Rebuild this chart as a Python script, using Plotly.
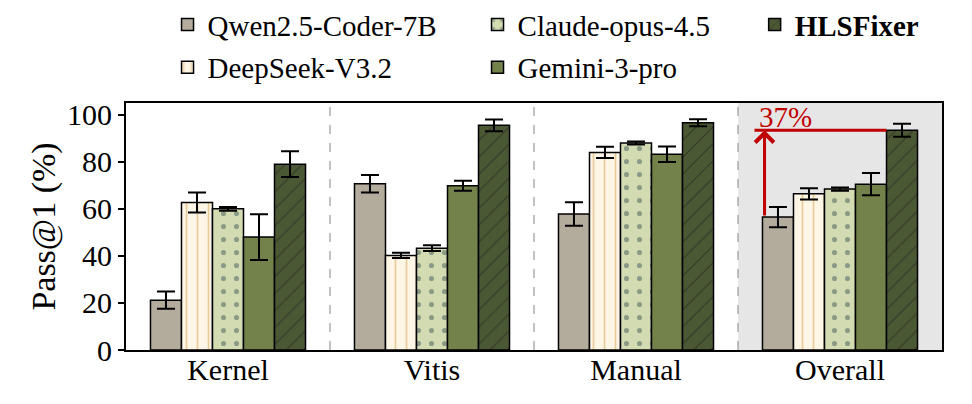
import plotly.graph_objects as go

categories = ["Kernel", "Vitis", "Manual", "Overall"]
cat_pos = [0, 1, 2, 3]

models = ["Qwen2.5-Coder-7B", "DeepSeek-V3.2", "Claude-opus-4.5", "Gemini-3-pro", "HLSFixer"]

qwen = [21.2, 70.7, 57.8, 56.5]
qwen_err = [3.7, 3.7, 5.0, 4.3]
deepseek = [62.7, 40.2, 84.0, 66.4]
deepseek_err = [4.3, 1.1, 2.4, 2.4]
claude = [60.0, 43.3, 88.0, 68.4]
claude_err = [0.8, 1.2, 0.6, 0.7]
gemini = [48.0, 69.8, 83.2, 70.5]
gemini_err = [9.7, 2.1, 3.3, 4.7]
hlsfixer = [79.0, 95.5, 96.6, 93.4]
hlsfixer_err = [5.5, 2.5, 1.5, 2.8]

improvement_label = "37%"

FONT = "Liberation Serif"
RED = "#c00000"

series = [
    (models[0], qwen, qwen_err, "#b3ab9c", None, "legend", 0),
    (models[1], deepseek, deepseek_err, "#fdf5e6", dict(shape="|", fgcolor="#d2a047", size=11, solidity=0.15), "legend", 1),
    (models[2], claude, claude_err, "#d3dbb2", dict(shape=".", fgcolor="#3f5c55", size=13, solidity=0.12), "legend2", 2),
    (models[3], gemini, gemini_err, "#73824b", None, "legend2", 3),
    ("<b>" + models[4] + "</b>", hlsfixer, hlsfixer_err, "#4b5834", dict(shape="/", fgcolor="#1a1a1a", size=12, solidity=0.1), "legend3", 4),
]

fig = go.Figure()
for name, vals, errs, color, pattern, leg, idx in series:
    marker = dict(color=color, line=dict(color="black", width=1.5))
    if pattern:
        marker["pattern"] = pattern
    fig.add_trace(go.Bar(
        x=cat_pos, y=vals, name=name, marker=marker,
        error_y=dict(type="data", array=errs, color="black", thickness=2, width=9),
        legend=leg, legendgroup=f"g{idx}",
    ))

# background for Overall group
fig.add_shape(type="rect", xref="x", yref="paper", x0=2.5, x1=3.5, y0=0, y1=1,
              fillcolor="#e6e6e6", line=dict(width=0), layer="below")
for xs in [0.5, 1.5, 2.5]:
    fig.add_shape(type="line", xref="x", yref="paper", x0=xs, x1=xs, y0=0, y1=1,
                  line=dict(color="#9a9a9a", width=1.2, dash="dash"), layer="below")

# improvement annotation
q_x = 3 - 2 * 0.152 - 0.066
fig.add_shape(type="line", xref="x", yref="y", x0=q_x - 0.049, x1=3 + 2 * 0.152 - 0.076,
              y0=hlsfixer[3], y1=hlsfixer[3], line=dict(color=RED, width=3))
fig.add_annotation(x=q_x, y=hlsfixer[3], ax=q_x, ay=qwen[3], xref="x", yref="y",
                   axref="x", ayref="y", showarrow=True, arrowhead=4, arrowsize=1.2,
                   arrowwidth=3, arrowcolor=RED, text="")
fig.add_annotation(x=q_x + 0.103, y=hlsfixer[3] + 1.5, xref="x", yref="y", text=improvement_label,
                   showarrow=False, yanchor="bottom", yshift=-8,
                   font=dict(family=FONT, size=29, color=RED))

legend_common = dict(orientation="v", yanchor="top", xanchor="left", yref="paper",
                     font=dict(family=FONT, size=29, color="black"),
                     bgcolor="rgba(0,0,0,0)", tracegroupgap=2, traceorder="grouped")

fig.update_layout(
    width=972, height=404,
    margin=dict(l=117.5, r=38, t=95, b=62, autoexpand=False),
    plot_bgcolor="white", paper_bgcolor="white",
    barmode="group", bargap=0.24, bargroupgap=0,
    font=dict(family=FONT, size=29, color="black"),
    legend=dict(x=0.0509, y=1.4206, **legend_common),
    legend2=dict(x=0.4308, y=1.4206, **legend_common),
    legend3=dict(x=0.7704, y=1.4206, **legend_common),
    xaxis=dict(tickvals=cat_pos, ticktext=categories, range=[-0.5, 3.5],
               showline=True, linecolor="black", linewidth=2, mirror=True, automargin=False,
               ticks="", ticklabelstandoff=-8,
               tickfont=dict(family=FONT, size=30), showgrid=False, zeroline=False),
    yaxis=dict(range=[0, 105], tickvals=[0, 20, 40, 60, 80, 100],
               showline=True, linecolor="black", linewidth=2, mirror=True, automargin=False,
               ticks="outside", ticklen=6, tickwidth=2, tickcolor="black",
               tickfont=dict(family=FONT, size=30), showgrid=False, zeroline=False,
               title=dict(text="Pass@1 (%)", font=dict(family=FONT, size=34), standoff=1)),
)

fig.write_html("out.html")
